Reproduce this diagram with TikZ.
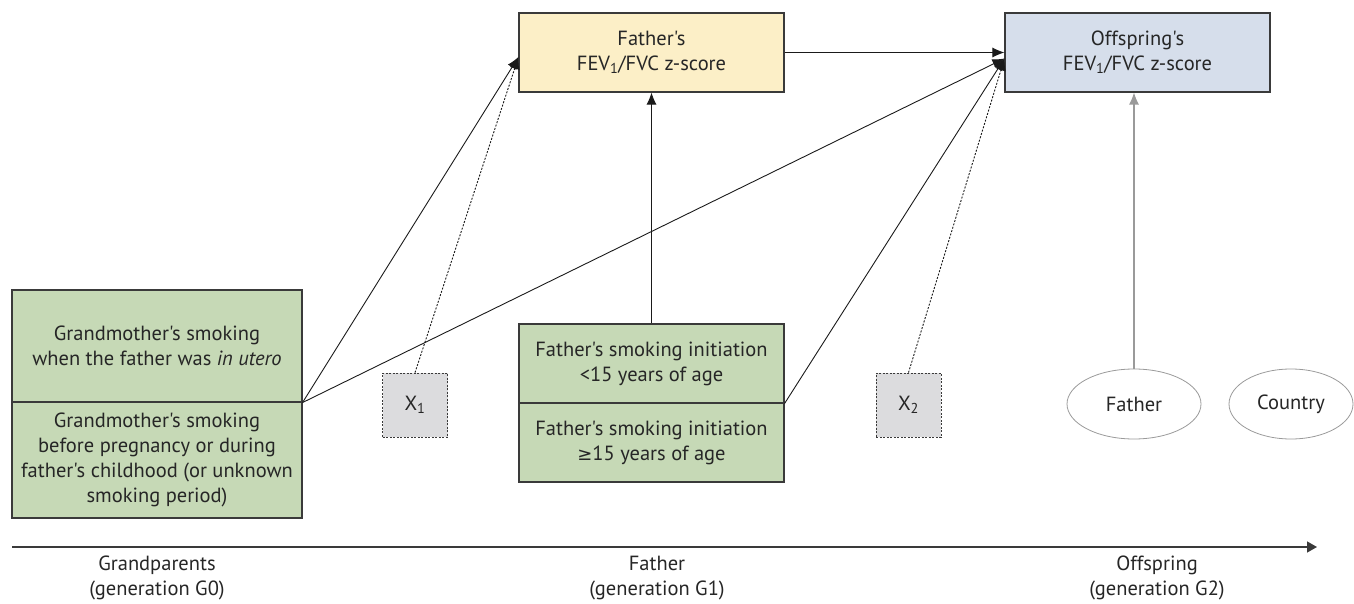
\documentclass[tikz,border=0pt]{standalone}
\usepackage{fontspec}
\setmainfont{PT Sans}[Ligatures=TeXOff]
\newfontfamily\symb{DejaVu Sans}
\usetikzlibrary{positioning, arrows.meta, shapes.geometric}

\definecolor{jaune}{HTML}{FCEFC7}
\definecolor{bleu}{HTML}{D6DEEB}
\definecolor{vert}{HTML}{C6D9B6}
\definecolor{grisx}{HTML}{DCDCDE}
\definecolor{contour}{HTML}{3A3A3A}
\definecolor{trait}{HTML}{1A1A1A}
\definecolor{grisclair}{HTML}{9A9A9A}
\definecolor{texte}{HTML}{262626}

\begin{document}
\begin{tikzpicture}[x=1pt, y=-1pt,
    font=\fontsize{20.5}{25}\selectfont, text=texte,
    boite/.style={draw=contour, line width=1.1pt, align=center, inner sep=0pt},
    confondant/.style={draw=contour, line width=0.8pt, fill=grisx,
      dash pattern=on 2pt off 1.5pt, minimum width=65, minimum height=64, inner sep=0pt},
    ellipsef/.style={ellipse, draw=grisclair, line width=0.8pt, minimum height=70, inner sep=0pt},
    fleche/.style={-{Latex[length=12pt,width=10pt]}, draw=trait, line width=0.9pt},
    pointille/.style={fleche, dash pattern=on 2pt off 1.5pt}]
  \useasboundingbox (0,0) rectangle (1354,604);

  % Resultats
  \node[boite, fill=jaune, minimum width=265, minimum height=79] (zpere) at (651.5,52.5)
    {Father's\\FEV\textsubscript{1}/FVC z-score};
  \node[boite, fill=bleu, minimum width=265, minimum height=79] (zenfant) at (1137.5,52.5)
    {Offspring's\\FEV\textsubscript{1}/FVC z-score};

  % Expositions
  \node[boite, fill=vert, minimum width=290, minimum height=112] (gmutero) at (157,346)
    {Grandmother's smoking\\when the father was \textit{in utero}};
  \node[boite, fill=vert, minimum width=290, minimum height=116] (gmenfance) at (157,460)
    {Grandmother's smoking\\before pregnancy or during\\father's childhood (or unknown\\smoking period)};
  \node[boite, fill=vert, minimum width=265, minimum height=79] (pavant) at (651.5,363.5)
    {Father's smoking initiation\\<15 years of age};
  \node[boite, fill=vert, minimum width=265, minimum height=79] (papres) at (651.5,442.5)
    {Father's smoking initiation\\{\symb\fontsize{18}{25}\selectfont ≥}15 years of age};

  % Facteurs non mesures
  \node[confondant] (xun) at (415,405) {X\textsubscript{1}};
  \node[confondant] (xdeux) at (908.5,405) {X\textsubscript{2}};

  % Effets aleatoires
  \node[ellipsef, minimum width=134] (epere) at (1134,404) {Father};
  \node[ellipsef, minimum width=124] (epays) at (1291,404) {Country};

  % Points d'arrivee
  \coordinate (arrivpere) at ([yshift=-4.5pt]zpere.west);
  \coordinate (arrivenfant) at ([yshift=-6pt]zenfant.west);

  % Fleches
  \draw[fleche] (gmutero.south east) -- (arrivpere);
  \draw[fleche] (gmutero.south east) -- (arrivenfant);
  \draw[pointille] (xun.north) -- (arrivpere);
  \draw[fleche] (pavant.south east) -- (arrivenfant);
  \draw[pointille] (xdeux.north) -- (arrivenfant);
  \draw[fleche] (pavant.north) -- (zpere.south);
  \draw[fleche] (zpere.east) -- (zenfant.west);
  \draw[fleche, draw=grisclair, line width=1.1pt] (epere.north) -- (zenfant.south -| epere.north);

  % Axe des generations
  \coordinate (axedebut) at (12,547);
  \coordinate (axefin) at (1317,547);
  \draw[-{Triangle[length=10pt,width=11pt]}, draw=contour, line width=1.3pt] (axedebut) -- (axefin);
  \foreach \x/\nom/\gen/\etiq in {157/Grandparents/G0/gp, 657/Father/G1/pe, 1157/Offspring/G2/en} {
    \node[align=center] (\etiq) at (\x,578) {\nom\\(generation \gen)};
  }
\end{tikzpicture}
\end{document}
